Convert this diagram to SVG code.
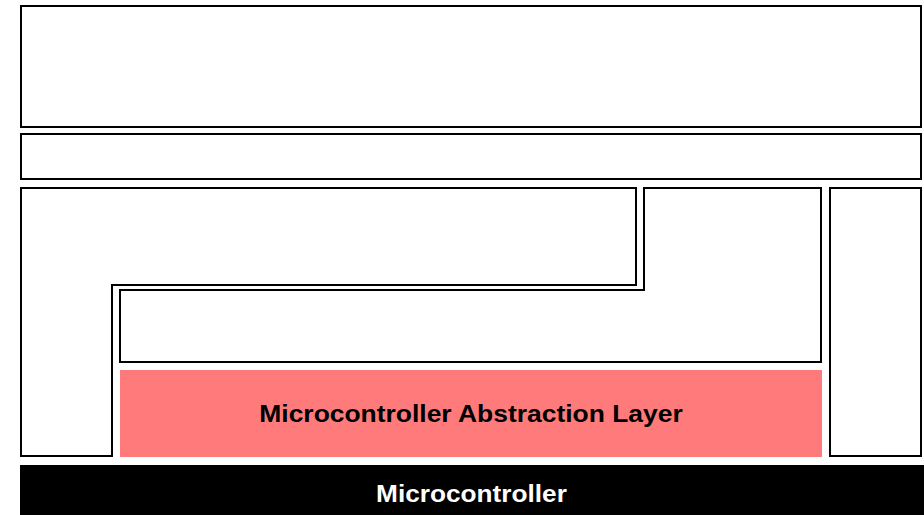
<svg xmlns="http://www.w3.org/2000/svg" width="924" height="515" viewBox="0 0 924 515">
<style>
.box{fill:#fff;stroke:#000;stroke-width:2}
.lbl{font-family:"Liberation Sans",Arial,sans-serif;font-weight:bold;font-size:23px;text-anchor:middle}
</style>
<rect width="924" height="515" fill="#fff"/>
<g id="top"><rect class="box" x="21" y="6" width="900" height="121"/></g>
<g id="band"><rect class="box" x="21" y="134" width="900" height="45"/></g>
<g id="left-l"><path class="box" d="M21,188 H636 V285 H112 V456 H21 Z"/></g>
<g id="inner-l"><path class="box" d="M644,188 H821 V362 H120 V290 H644 Z"/></g>
<g id="right"><rect class="box" x="830" y="188" width="91" height="268"/></g>
<g id="mcal"><rect x="120" y="370" width="702" height="87" fill="#ff7b7b"/>
<text class="lbl" fill="#000" transform="translate(471,421.5) scale(1.15,1)">Microcontroller Abstraction Layer</text></g>
<g id="mcu"><rect x="20" y="465" width="904" height="50" fill="#000"/>
<text class="lbl" fill="#fff" transform="translate(471.5,501.5) scale(1.14,1)">Microcontroller</text></g>
<g id="connectors"/>
</svg>
